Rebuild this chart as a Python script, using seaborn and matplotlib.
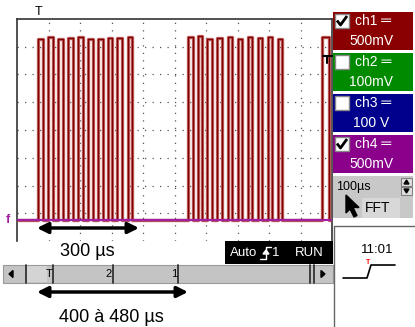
import numpy as np
import pandas as pd
import matplotlib
matplotlib.use("Agg")
import matplotlib.pyplot as plt
from matplotlib.patches import Rectangle, Polygon
import seaborn as sns

# ---- data (time in microseconds, ch1 in volts) ----
rise_us = [66.7, 98.4, 130.2, 161.9, 193.7, 225.4, 257.1, 288.9, 317.5, 352.4,
           542.9, 574.6, 603.2, 634.9, 669.8, 701.6, 733.3, 765.1, 796.8, 828.6,
           969.8]
fall_us = [82.5, 114.3, 146.0, 177.8, 209.5, 241.3, 273.0, 301.6, 333.3, 365.1,
           558.7, 587.3, 619.0, 650.8, 682.5, 714.3, 746.0, 777.8, 809.5, 841.3,
           988.9]
high_v = [3.27, 3.30, 3.26, 3.28, 3.30, 3.26, 3.26, 3.28, 3.28, 3.30,
          3.30, 3.31, 3.27, 3.28, 3.29, 3.26, 3.30, 3.28, 3.30, 3.26,
          3.29]
low_v = 0.0
ch4_t = [0.0, 1000.0]
ch4_v = [0.0, 0.0]
channels = ["ch1", "ch2", "ch3", "ch4"]
ch_scales = ["500mV", "100mV", "100 V", "500mV"]
ch_checked = [True, False, False, True]
ch_colors = ["#8a0000", "#008a00", "#00008c", "#8a008a"]
timebase = "100µs"
clock = "11:01"
span1 = "300 µs"
span2 = "400 à 480 µs"

t_pts, v_pts = [0.0], [low_v]
for r, f, h in zip(rise_us, fall_us, high_v):
    t_pts += [r, f]
    v_pts += [h, low_v]
t_pts.append(1000.0)
v_pts.append(low_v)
df1 = pd.DataFrame({"t": t_pts, "v": v_pts})
df4 = pd.DataFrame({"t": ch4_t, "v": ch4_v})

sns.set_theme(style="white")
plt.rcParams["font.family"] = ["Liberation Sans", "DejaVu Sans"]

W, H = 415, 327
fig = plt.figure(figsize=(W / 100, H / 100), dpi=100)
fig.patch.set_facecolor("white")

L, T, R, B = 17, 19, 332, 241
ax = fig.add_axes([L / W, (H - B) / H, (R - L) / W, (B - T) / H])
ax.set_facecolor("white")
div_v = 0.5
ax.set_xlim(0, 1000)
ax.set_ylim(-0.757 * div_v, (8 - 0.757) * div_v)

# grid
for k in range(1, 10):
    ax.axvline(k * 100, color="#555555", lw=0.9, ls=(0, (1, 5)), zorder=1)
for k in range(1, 8):
    ax.axhline(-0.757 * div_v + k * div_v, color="#555555", lw=0.9, ls=(0, (1, 5)), zorder=1)

sns.lineplot(data=df1, x="t", y="v", drawstyle="steps-post", estimator=None, sort=False,
             color="#c06060", lw=2.4, ax=ax, zorder=3)
sns.lineplot(data=df1, x="t", y="v", drawstyle="steps-post", estimator=None, sort=False,
             color="#800000", lw=0.9, ax=ax, zorder=4)
sns.lineplot(data=df4, x="t", y="v", estimator=None, color="#a020a0", lw=1.6, ax=ax, zorder=5)

ax.set_xticks([])
ax.set_yticks([])
ax.set_xlabel("")
ax.set_ylabel("")
for s in ax.spines.values():
    s.set_color("#333333")
    s.set_linewidth(1.2)
ax.spines["bottom"].set_visible(False)

# overlay for instrument UI
ov = fig.add_axes([0, 0, 1, 1], zorder=10)
ov.set_xlim(0, W)
ov.set_ylim(H, 0)
ov.axis("off")
ov.patch.set_alpha(0)

# channel boxes
box_y = [12, 53, 94, 135]
for i, (name, sc, chk, col) in enumerate(zip(channels, ch_scales, ch_checked, ch_colors)):
    y0 = box_y[i]
    ov.add_patch(Rectangle((333, y0), 80, 38, facecolor=col, edgecolor="none"))
    ov.add_patch(Rectangle((334.5, y0 + 1.5), 14, 14, facecolor="white", edgecolor="#888888", lw=1))
    if chk:
        ov.plot([337, 340.5, 347], [y0 + 8.5, y0 + 13, y0 + 4], color="black", lw=2, solid_capstyle="butt")
    ov.text(355, y0 + 9, name + " ═", color="white", fontsize=10, va="center", ha="left")
    ov.text(371, y0 + 29, sc, color="white", fontsize=10, va="center", ha="center")

# timebase panel
ov.add_patch(Rectangle((333, 176), 80, 42, facecolor="#c8c8c8", edgecolor="none"))
ov.add_patch(Rectangle((362, 198), 38, 20, facecolor="#d8d8d8", edgecolor="none"))
ov.text(336, 187, timebase, fontsize=9, va="center", ha="left", color="black")
ov.text(378, 208, "FFT", fontsize=10, va="center", ha="center", color="black")
ov.add_patch(Rectangle((401, 178), 11, 8, facecolor="#e0e0e0", edgecolor="#808080", lw=0.8))
ov.add_patch(Rectangle((401, 187), 11, 8, facecolor="#e0e0e0", edgecolor="#808080", lw=0.8))
ov.add_patch(Polygon([[404, 184], [409, 184], [406.5, 180]], color="black"))
ov.add_patch(Polygon([[404, 189], [409, 189], [406.5, 193]], color="black"))
ov.add_patch(Polygon([[346, 195], [346, 213], [350, 209], [354, 217], [357, 215.5],
                      [353, 207.5], [359, 207.5]], color="black"))

# clock box
ov.plot([334, 415], [226, 226], color="#666666", lw=1)
ov.plot([334, 334], [226, 327], color="#666666", lw=1)
ov.text(377, 250, clock, fontsize=9.5, ha="center", va="center", color="black")
ov.plot([343, 367, 371, 395], [278, 278, 265, 265], color="black", lw=1.2)
ov.text(368.5, 262, "T", fontsize=5, color="red", ha="center", va="center", fontweight="bold")

# trigger status box
ov.add_patch(Rectangle((225, 241), 108, 23, facecolor="black", edgecolor="none"))
ov.text(230, 253, "Auto", color="white", fontsize=9.5, va="center", ha="left")
ov.plot([260, 266, 266, 271], [259, 259, 247, 247], color="white", lw=1)
ov.add_patch(Polygon([[263, 254], [269, 254], [266, 250]], color="white"))
ov.text(272, 253, "1", color="white", fontsize=9.5, va="center", ha="left")
ov.text(295, 253, "RUN", color="white", fontsize=9.5, va="center", ha="left")

# scrollbar
ov.add_patch(Rectangle((3, 265), 330, 18, facecolor="#c4c4c4", edgecolor="#9a9a9a", lw=0.8))
ov.add_patch(Rectangle((27, 266), 20, 16, facecolor="#d4d4d4", edgecolor="none"))
ov.add_patch(Polygon([[9, 274], [13, 270.5], [13, 277.5]], color="black"))
ov.add_patch(Polygon([[325, 274], [321, 270.5], [321, 277.5]], color="black"))
for x in [25.5, 53, 113, 178, 310, 313.5]:
    ov.plot([x, x], [265, 283], color="#333333", lw=1.3)
ov.text(49, 274, "T", fontsize=8, ha="center", va="center", color="black")
ov.text(109, 274, "2", fontsize=8, ha="center", va="center", color="black")
ov.text(174, 274, "1", fontsize=8, ha="center", va="center", color="black")

# markers
ov.text(39, 12, "T", fontsize=9, ha="center", va="center", color="black")
ov.text(8, 220, "f", fontsize=9, ha="center", va="center", color="#a020a0", fontweight="bold")
ov.plot([323, 332], [56, 56], color="black", lw=1.5)
ov.plot([327, 327], [56, 63], color="black", lw=1.5)

# measurement arrows
ov.annotate("", xy=(37, 228), xytext=(139, 228),
            arrowprops=dict(arrowstyle="<|-|>", color="black", lw=2.5, mutation_scale=16,
                            shrinkA=0, shrinkB=0))
ov.text(87, 252, span1, fontsize=13, ha="center", va="center", color="black")
ov.annotate("", xy=(37, 292), xytext=(188, 292),
            arrowprops=dict(arrowstyle="<|-|>", color="black", lw=2.5, mutation_scale=16,
                            shrinkA=0, shrinkB=0))
ov.text(111, 317, span2, fontsize=13, ha="center", va="center", color="black")

fig.savefig("out.png", dpi=100, facecolor="white")
